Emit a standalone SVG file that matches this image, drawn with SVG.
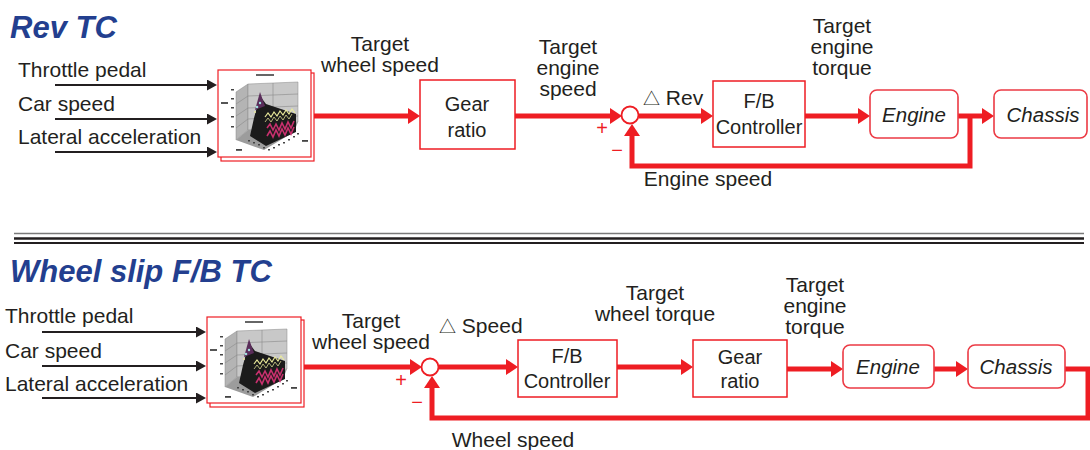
<svg xmlns="http://www.w3.org/2000/svg" width="1090" height="450" viewBox="0 0 1090 450">
<style>
.t{font-family:"Liberation Sans",Arial,"Noto Sans CJK JP",sans-serif;font-size:21px;fill:#231f20}
.c{text-anchor:middle}
.b{font-size:20px}
.i{font-style:italic;font-size:20.5px}
.d{font-size:17px}
.h{font-family:"Liberation Sans",Arial,sans-serif;font-size:31px;font-weight:bold;font-style:italic;fill:#233f8f}
.s{font-family:"Liberation Sans",Arial,sans-serif;font-size:20px;fill:#ee1d23;text-anchor:middle}
.box{fill:#fff;stroke:#ee1d23;stroke-width:1.5}
.rbox{fill:#fff;stroke:#ec3a44;stroke-width:1.6}
.map{fill:#fff;stroke:#ee1d23;stroke-width:1.2}
.redm{fill:none;stroke:#ee1d23;stroke-width:5;marker-end:url(#ra)}
.blk{fill:none;stroke:#231f20;stroke-width:2;marker-end:url(#ba)}
.sum{fill:#fff;stroke:#ee1d23;stroke-width:1.8}
</style>
<defs>
<marker id="ra" markerUnits="userSpaceOnUse" markerWidth="14" markerHeight="18" refX="4" refY="8" orient="auto"><path d="M0,0 L12,8 L0,16 z" fill="#ee1d23"/></marker>
<marker id="ba" markerUnits="userSpaceOnUse" markerWidth="12" markerHeight="12" refX="4" refY="5.5" orient="auto"><path d="M0,0 L10,5.5 L0,11 z" fill="#231f20"/></marker>
<g id="chart">
<rect x="38" y="4" width="18" height="2" fill="#666"/>
<rect x="13" y="19" width="3" height="1.5" fill="#444"/>
<rect x="13" y="28" width="3" height="1.5" fill="#444"/>
<rect x="13" y="37" width="3" height="1.5" fill="#444"/>
<rect x="13" y="46" width="3" height="1.5" fill="#444"/>
<rect x="13" y="56" width="3" height="1.5" fill="#444"/>
<rect x="3" y="32" width="7" height="2" fill="#555"/>
<polygon points="18,22 30,14 30,60 18,70" fill="#b4b4b4" stroke="#888" stroke-width="0.5"/>
<polygon points="30,14 80,12 80,52 30,60" fill="#c8c8c8" stroke="#888" stroke-width="0.5"/>
<path d="M18,34 L30,26 L80,24 M18,46 L30,38 L80,36 M18,58 L30,49 L80,46 M55,13 L55,56" stroke="#8a8a8a" stroke-width="0.6" fill="none"/>
<polygon points="18,70 30,60 80,52 76,62 46,80" fill="#9c9c9c"/>
<polygon points="32,66 36,48 42,26 48,34 78,44 78,62 48,76" fill="#1b1b1b"/>
<polygon points="37,40 42,22 47,36" fill="#5a2d5a"/>
<circle cx="39" cy="37" r="1.3" fill="#9fe0e0"/>
<circle cx="42" cy="33" r="1.2" fill="#9fe0e0"/>
<circle cx="37" cy="42" r="1" fill="#e8e8a0"/>
<polyline points="47,47 50,43 53,47 56,42 59,46 62,41 65,45 68,40 71,44 74,39 77,43" fill="none" stroke="#eaea9a" stroke-width="1.2"/>
<polyline points="47,52 50,48 53,52 56,47 59,51 62,46 65,50 68,45 71,49 74,44" fill="none" stroke="#d8d890" stroke-width="0.8"/>
<polyline points="49,58 52,54 55,60 58,54 61,60 64,53 67,59 70,52 73,58 76,51" fill="none" stroke="#c8306e" stroke-width="1.6"/>
<polyline points="49,66 52,61 55,67 58,60 61,66 64,59 67,65 70,58 73,64 76,57" fill="none" stroke="#c8306e" stroke-width="1.6"/>
<g fill="#444">
<rect x="30" y="70" width="2" height="1.5"/><rect x="35" y="72" width="2" height="1.5"/><rect x="40" y="74" width="2" height="1.5"/>
<rect x="45" y="77" width="2" height="1.5"/><rect x="50" y="79" width="2" height="1.5"/><rect x="55" y="77" width="2" height="1.5"/>
<rect x="60" y="74" width="2" height="1.5"/><rect x="65" y="72" width="2" height="1.5"/><rect x="70" y="69" width="2" height="1.5"/>
<rect x="75" y="66" width="2" height="1.5"/><rect x="79" y="63" width="2" height="1.5"/><rect x="84" y="70" width="6" height="1.8"/>
<rect x="18" y="79" width="6" height="1.8"/>
</g>
</g>
</defs>

<!-- Section 1: Rev TC -->
<text class="h" x="10" y="38">Rev TC</text>

<g id="connectors-top">
<line class="blk" x1="55" y1="85" x2="211" y2="85"/>
<line class="blk" x1="55" y1="119" x2="211" y2="119"/>
<line class="blk" x1="55" y1="152" x2="211" y2="152"/>
<line class="redm" x1="314" y1="116" x2="412" y2="116"/>
<line class="redm" x1="515" y1="116" x2="614" y2="116"/>
<line class="redm" x1="639" y1="116" x2="705" y2="116"/>
<line class="redm" x1="805" y1="116" x2="862" y2="116"/>
<line class="redm" x1="958" y1="116" x2="986" y2="116"/>
<polyline class="redm" points="970,116 970,166 632,166 632,132"/>
</g>

<g id="inputs-top">
<text class="t" x="18" y="77">Throttle pedal</text>
<text class="t" x="18" y="111">Car speed</text>
<text class="t" x="18" y="144">Lateral acceleration</text>
</g>

<g id="map-top">
<rect class="map" x="221" y="73" width="93" height="88"/>
<rect class="map" x="218" y="70" width="93" height="87"/>
<use href="#chart" x="218" y="70"/>
</g>

<g id="labels-top">
<text class="t c" x="380" y="51">Target</text>
<text class="t c" x="380" y="72">wheel speed</text>
<text class="t c" x="568" y="54">Target</text>
<text class="t c" x="568" y="75">engine</text>
<text class="t c" x="568" y="96">speed</text>
<text class="t" x="643" y="105"><tspan class="d">△</tspan> Rev</text>
<text class="t c" x="842" y="33">Target</text>
<text class="t c" x="842" y="54">engine</text>
<text class="t c" x="842" y="75">torque</text>
<text class="t c" x="708" y="186">Engine speed</text>
<text class="s" x="602" y="135">+</text>
<text class="s" x="617" y="157">−</text>
</g>

<g id="gear-top">
<rect class="box" x="420" y="80" width="95" height="69"/>
<text class="t c b" x="467" y="111">Gear</text>
<text class="t c b" x="467" y="137">ratio</text>
</g>

<g id="sum-top">
<circle class="sum" cx="630" cy="115" r="8.5"/>
</g>

<g id="fb-top">
<rect class="box" x="713" y="81" width="92" height="66"/>
<text class="t c b" x="759" y="108">F/B</text>
<text class="t c b" x="759" y="134">Controller</text>
</g>

<g id="engine-top">
<rect class="rbox" x="870" y="90" width="88" height="48" rx="7"/>
<text class="t c i" x="914" y="122">Engine</text>
</g>

<g id="chassis-top">
<rect class="rbox" x="994" y="90" width="93" height="48" rx="7"/>
<text class="t c i" x="1043" y="122">Chassis</text>
</g>

<!-- Divider -->
<g id="divider">
<line x1="14" y1="233.5" x2="1084" y2="233.5" stroke="#7a7a7a" stroke-width="1.5"/>
<line x1="14" y1="238.5" x2="1084" y2="238.5" stroke="#231f20" stroke-width="2.5"/>
<line x1="14" y1="243" x2="1084" y2="243" stroke="#231f20" stroke-width="1.8"/>
</g>

<!-- Section 2: Wheel slip F/B TC -->
<text class="h" x="10" y="282">Wheel slip F/B TC</text>

<g id="connectors-bottom">
<line class="blk" x1="42" y1="332" x2="200" y2="332"/>
<line class="blk" x1="42" y1="366" x2="200" y2="366"/>
<line class="blk" x1="42" y1="398" x2="200" y2="398"/>
<line class="redm" x1="304" y1="367" x2="414" y2="367"/>
<line class="redm" x1="439" y1="367" x2="510" y2="367"/>
<line class="redm" x1="617" y1="367" x2="685" y2="367"/>
<line class="redm" x1="787" y1="369" x2="835" y2="369"/>
<line class="redm" x1="934" y1="369" x2="960" y2="369"/>
<polyline class="redm" points="1065,369 1088,369 1088,418 432,418 432,384"/>
</g>

<g id="inputs-bottom">
<text class="t" x="5" y="323">Throttle pedal</text>
<text class="t" x="5" y="358">Car speed</text>
<text class="t" x="5" y="391">Lateral acceleration</text>
</g>

<g id="map-bottom">
<rect class="map" x="210" y="320" width="94" height="87"/>
<rect class="map" x="207" y="317" width="94" height="86"/>
<use href="#chart" x="207" y="317"/>
</g>

<g id="labels-bottom">
<text class="t c" x="371" y="328">Target</text>
<text class="t c" x="371" y="349">wheel speed</text>
<text class="t" x="439" y="333"><tspan class="d">△</tspan> Speed</text>
<text class="t c" x="655" y="300">Target</text>
<text class="t c" x="655" y="321">wheel torque</text>
<text class="t c" x="815" y="292">Target</text>
<text class="t c" x="815" y="313">engine</text>
<text class="t c" x="815" y="334">torque</text>
<text class="t c" x="513" y="447">Wheel speed</text>
<text class="s" x="401" y="387">+</text>
<text class="s" x="417" y="409">−</text>
</g>

<g id="sum-bottom">
<circle class="sum" cx="430" cy="367" r="8.5"/>
</g>

<g id="fb-bottom">
<rect class="box" x="518" y="340" width="99" height="57"/>
<text class="t c b" x="567" y="363">F/B</text>
<text class="t c b" x="567" y="388">Controller</text>
</g>

<g id="gear-bottom">
<rect class="box" x="693" y="340" width="94" height="57"/>
<text class="t c b" x="740" y="364">Gear</text>
<text class="t c b" x="740" y="388">ratio</text>
</g>

<g id="engine-bottom">
<rect class="rbox" x="843" y="345" width="91" height="43" rx="7"/>
<text class="t c i" x="888" y="374">Engine</text>
</g>

<g id="chassis-bottom">
<rect class="rbox" x="968" y="345" width="97" height="43" rx="7"/>
<text class="t c i" x="1016" y="374">Chassis</text>
</g>
</svg>
